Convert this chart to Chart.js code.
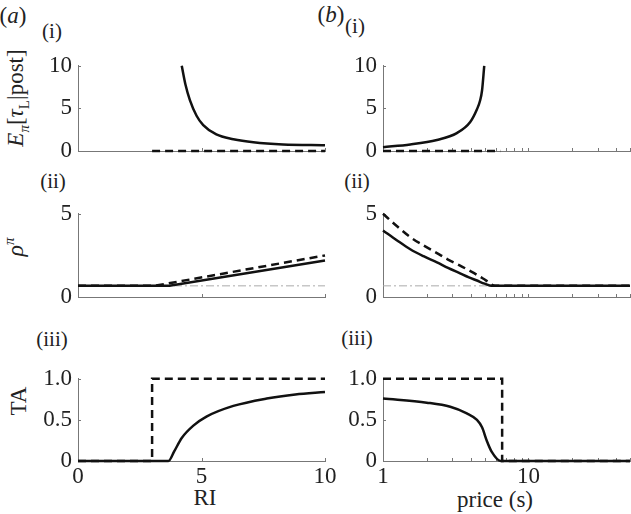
<!DOCTYPE html>
<html>
<head>
<meta charset="utf-8">
<script src="https://cdn.jsdelivr.net/npm/chart.js@4/dist/chart.umd.min.js"></script>
<style>
  body { margin: 0; background: #fff; width: 631px; height: 514px; position: relative; overflow: hidden; }
  canvas { position: absolute; }
  .lbl { position: absolute; font-family: "Liberation Serif", "Times New Roman", Times, serif; color: #222; white-space: nowrap; transform: translate(-50%, -50%); line-height: 1; }
  .rot { transform: translate(-50%, -50%) rotate(-90deg); }
  i { font-style: italic; }
</style>
</head>
<body>

<div class="lbl" style="left:13px;top:15px;font-size:23px">(<i>a</i>)</div>
<div class="lbl" style="left:331px;top:14px;font-size:23px">(<i>b</i>)</div>
<div class="lbl" style="left:52px;top:31px;font-size:21px">(i)</div>
<div class="lbl" style="left:355px;top:26px;font-size:21px">(i)</div>
<div class="lbl" style="left:53px;top:181px;font-size:21px">(ii)</div>
<div class="lbl" style="left:357px;top:181px;font-size:21px">(ii)</div>
<div class="lbl" style="left:52px;top:339px;font-size:21px">(iii)</div>
<div class="lbl" style="left:357px;top:338px;font-size:21px">(iii)</div>

<div class="lbl rot" style="left:18px;top:98px;font-size:23px"><i>E</i><sub style="font-size:15px"><i>π</i></sub>[<i>τ</i><sub style="font-size:15px">L</sub>|post]</div>
<div class="lbl rot" style="left:14px;top:247px;font-size:24px"><i>ρ</i><sup style="font-size:15px"><i>π</i></sup></div>
<div class="lbl rot" style="left:18px;top:401px;font-size:23px">TA</div>
<div class="lbl" style="left:205px;top:497px;font-size:23px">RI</div>
<div class="lbl" style="left:495px;top:499px;font-size:23px">price (s)</div>

<canvas id="a1"></canvas>
<canvas id="a2"></canvas>
<canvas id="a3"></canvas>
<canvas id="b1"></canvas>
<canvas id="b2"></canvas>
<canvas id="b3"></canvas>

<script>
// (a) against RI
const riTicks = [0, 5, 10];
const riPostSolid = [4.2, 4.35, 4.53, 4.8, 5.07, 5.6, 6.29, 7.1, 8.3, 10];
const postSolidA = [10, 7.8, 5.97, 4.14, 3.04, 1.94, 1.39, 1.03, 0.77, 0.68];
const riPostDash = [3, 10];
const postDashA = [0, 0];

const riRhoSolid = [0, 3.7, 10];
const rhoSolidA = [0.67, 0.67, 2.2];
const riRhoDash = [0, 3.1, 10];
const rhoDashA = [0.67, 0.67, 2.5];

const riTaSolid = [0, 3.66, 3.9, 4.2, 4.67, 5.2, 6.29, 7.64, 8.8, 10];
const taSolidA = [0, 0, 0.12, 0.28, 0.43, 0.54, 0.67, 0.76, 0.81, 0.84];
const riTaDash = [0, 3, 3, 10];
const taDashA = [0, 0, 1, 1];

// (b) against price (log)
const priceTicks = [1, 2, 3, 4, 5, 6, 7, 8, 9, 10, 20, 30, 40, 50];
const pricePostSolid = [1, 1.54, 2.35, 3.22, 3.98, 4.43, 4.65, 4.8, 4.97];
const postSolidB = [0.45, 0.77, 1.3, 2.1, 3.4, 4.9, 5.9, 7.1, 10];
const pricePostDash = [1, 6.4];
const postDashB = [0, 0];

const priceRhoSolid = [1, 1.25, 1.54, 1.9, 2.35, 2.8, 3.39, 3.9, 4.43, 5.0, 5.6, 50];
const rhoSolidB = [4.0, 3.4, 2.87, 2.45, 2.08, 1.75, 1.42, 1.18, 0.99, 0.8, 0.67, 0.67];
const priceRhoDash = [1, 1.25, 1.54, 1.9, 2.35, 2.8, 3.39, 3.9, 4.43, 5.1, 5.9, 50];
const rhoDashB = [5.0, 4.25, 3.6, 3.1, 2.64, 2.25, 1.89, 1.6, 1.33, 1.0, 0.67, 0.67];

const priceTaSolid = [1, 2.0, 2.9, 3.77, 4.43, 4.8, 5.19, 5.6, 6.45, 50];
const taSolidB = [0.76, 0.71, 0.66, 0.58, 0.50, 0.41, 0.24, 0.11, 0, 0];
const priceTaDash = [1, 6.6, 6.6, 50];
const taDashB = [1, 1, 0, 0];

const rhoBase = 0.67; // grey reference level

const pts = (xs, ys) => xs.map((x, i) => ({x: x, y: ys[i]}));

function solid(xs, ys, straight) {
  return { data: pts(xs, ys), borderColor: '#111', borderWidth: 2.5, showLine: true, pointRadius: 0,
           cubicInterpolationMode: straight ? 'default' : 'monotone', tension: 0, clip: 6 };
}
function dashed(xs, ys, smooth) {
  return { data: pts(xs, ys), borderColor: '#111', borderWidth: 2.5, borderDash: [8, 5], showLine: true, pointRadius: 0,
           cubicInterpolationMode: smooth ? 'monotone' : 'default', tension: 0, clip: 6 };
}
function grey(x0, x1) {
  return { data: pts([x0, x1], [rhoBase, rhoBase]), borderColor: '#aaa', borderWidth: 1, borderDash: [8, 3, 2, 3], showLine: true, pointRadius: 0, clip: 6 };
}

// small inward tick marks like the original figure
const inwardTicks = {
  id: 'inwardTicks',
  beforeDatasetsDraw(chart) {
    const {ctx, chartArea, scales} = chart;
    ctx.save();
    ctx.strokeStyle = '#777';
    ctx.lineWidth = 1;
    scales.x.ticks.forEach(t => {
      const px = Math.round(scales.x.getPixelForValue(t.value)) + 0.5;
      ctx.beginPath();
      ctx.moveTo(px, chartArea.bottom);
      ctx.lineTo(px, chartArea.bottom - 3);
      ctx.stroke();
    });
    scales.y.ticks.forEach(t => {
      const py = Math.round(scales.y.getPixelForValue(t.value)) + 0.5;
      ctx.beginPath();
      ctx.moveTo(chartArea.left, py);
      ctx.lineTo(chartArea.left + 3, py);
      ctx.stroke();
    });
    ctx.restore();
  }
};

const font = { family: '"Liberation Serif", "Times New Roman", Times, serif', size: 23 };

function makePanel(id, box, datasets, xcfg, ycfg) {
  const padL = 72, padT = 14, padR = 16, padB = 36;
  const cv = document.getElementById(id);
  cv.width = box.w + padL + padR;
  cv.height = box.h + padT + padB;
  cv.style.left = (box.x - padL) + 'px';
  cv.style.top = (box.y - padT) + 'px';

  new Chart(cv, {
    type: 'scatter',
    data: { datasets: datasets },
    options: {
      responsive: false,
      animation: false,
      events: [],
      layout: { autoPadding: false, padding: { top: padT, right: padR, left: 0, bottom: 0 } },
      plugins: { legend: { display: false }, tooltip: { enabled: false } },
      scales: {
        x: {
          type: xcfg.type,
          min: xcfg.min, max: xcfg.max,
          grid: { display: true, drawOnChartArea: false, drawTicks: false },
          border: { display: true, color: '#777', width: 1 },
          afterBuildTicks: s => { s.ticks = xcfg.ticks.map(v => ({value: v})); },
          afterFit: s => { s.height = padB; },
          ticks: {
            display: xcfg.showLabels,
            autoSkip: false, maxRotation: 0,
            padding: 2,
            color: '#222',
            font: font,
            callback: v => (xcfg.labels.includes(v) ? String(v) : '')
          }
        },
        y: {
          min: ycfg.min, max: ycfg.max,
          grid: { display: true, drawOnChartArea: false, drawTicks: false },
          border: { display: true, color: '#777', width: 1 },
          afterBuildTicks: s => { s.ticks = ycfg.ticks.map(v => ({value: v})); },
          afterFit: s => { s.width = padL; },
          ticks: {
            padding: 6,
            color: '#222',
            font: font,
            callback: v => ycfg.fmt(v)
          }
        }
      }
    },
    plugins: [inwardTicks]
  });
}

const riAxis = (show) => ({ type: 'linear', min: 0, max: 10, ticks: riTicks, labels: riTicks, showLabels: show });
const priceAxis = (show) => ({ type: 'logarithmic', min: 1, max: 50, ticks: priceTicks, labels: [1, 10], showLabels: show });
const intFmt = v => String(v);
const taFmt = v => (v === 0 ? '0' : v.toFixed(1));

const colA = 78, colB = 383, plotW = 247;

makePanel('a1', {x: colA, y: 60, w: plotW, h: 91},
  [solid(riPostSolid, postSolidA), dashed(riPostDash, postDashA)],
  riAxis(false), {min: 0, max: 10, ticks: [0, 5, 10], fmt: intFmt});

makePanel('a2', {x: colA, y: 208, w: plotW, h: 89},
  [solid(riRhoSolid, rhoSolidA, true), dashed(riRhoDash, rhoDashA), grey(0, 10)],
  riAxis(false), {min: 0, max: 5, ticks: [0, 5], fmt: intFmt});

makePanel('a3', {x: colA, y: 373, w: plotW, h: 88},
  [solid(riTaSolid, taSolidA), dashed(riTaDash, taDashA)],
  riAxis(true), {min: 0, max: 1, ticks: [0, 0.5, 1], fmt: taFmt});

makePanel('b1', {x: colB, y: 60, w: plotW, h: 91},
  [solid(pricePostSolid, postSolidB), dashed(pricePostDash, postDashB)],
  priceAxis(false), {min: 0, max: 10, ticks: [0, 5, 10], fmt: intFmt});

makePanel('b2', {x: colB, y: 208, w: plotW, h: 89},
  [solid(priceRhoSolid, rhoSolidB), dashed(priceRhoDash, rhoDashB, true), grey(1, 50)],
  priceAxis(false), {min: 0, max: 5, ticks: [0, 5], fmt: intFmt});

makePanel('b3', {x: colB, y: 373, w: plotW, h: 88},
  [solid(priceTaSolid, taSolidB), dashed(priceTaDash, taDashB)],
  priceAxis(true), {min: 0, max: 1, ticks: [0, 0.5, 1], fmt: taFmt});
</script>
</body>
</html>
